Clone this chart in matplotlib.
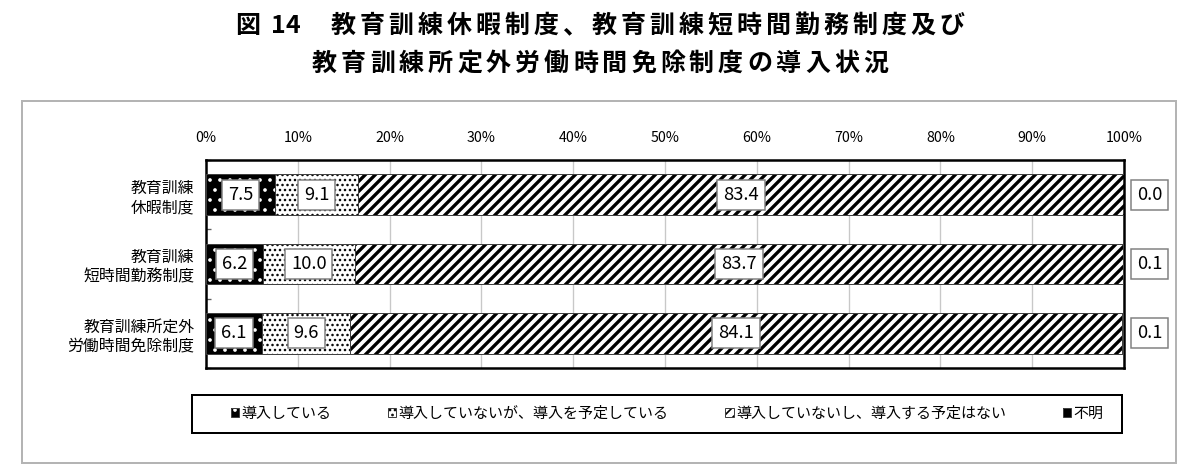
import matplotlib.pyplot as plt
import matplotlib as mpl
from matplotlib.patches import Patch, Rectangle
from matplotlib.legend_handler import HandlerTuple

plt.rcParams['font.family'] = ['Noto Sans CJK JP', 'DejaVu Sans']

# data
categories = ['教育訓練\n休暇制度', '教育訓練\n短時間勤務制度', '教育訓練所定外\n労働時間免除制度']
introduced = [7.5, 6.2, 6.1]
planned = [9.1, 10.0, 9.6]
not_planned = [83.4, 83.7, 84.1]
unknown = [0.0, 0.1, 0.1]
series_names = ['導入している', '導入していないが、導入を予定している',
                '導入していないし、導入する予定はない', '不明']
x_ticks = list(range(0, 101, 10))
title_lines = ['図 14　教育訓練休暇制度、教育訓練短時間勤務制度及び',
               '教育訓練所定外労働時間免除制度の導入状況']

# face colour, hatch, hatch colour, hatch line width
styles = [
    ('black', '..', 'white', 1.0),
    ('white', '....', 'black', 0.9),
    ('white', '////', 'black', 2.0),
    ('black', None, None, 0),
]

W, H = 1200, 475
fig = plt.figure(figsize=(W / 120, H / 120), dpi=120)

# grey outer frame
fig.patches.append(Rectangle((22 / W, 1 - 463 / H), (1176 - 22) / W, (463 - 101) / H,
                             transform=fig.transFigure, fill=False,
                             edgecolor='#b4b4b4', lw=1.2))


def spaced_line(text, y):
    adv = {' ': 9, '　': 29}
    widths = [adv.get(c, 14 if c.isascii() else 29) for c in text]
    x = 600 - sum(widths) / 2
    for c, w in zip(text, widths):
        fig.text((x + w / 2) / W, y, c, ha='center', va='center',
                 fontsize=15, fontweight='bold')
        x += w


spaced_line(title_lines[0], 1 - 26 / H)
spaced_line(title_lines[1], 1 - 64 / H)

ax = fig.add_axes([206 / W, 1 - 368 / H, 918 / W, 208 / H])

series = [introduced, planned, not_planned, unknown]
ypos = list(range(len(categories)))
bar_h = 0.59
left = [0.0] * len(categories)
for vals, (face, hatch, hcol, hlw) in zip(series, styles):
    ax.barh(ypos, vals, left=left, height=bar_h, color=face, lw=0, zorder=2)
    if hatch:
        with mpl.rc_context({'hatch.linewidth': hlw}):
            bars = ax.barh(ypos, vals, left=left, height=bar_h, fill=False,
                           hatch=hatch, edgecolor=hcol, lw=0, zorder=3)
        for b in bars:
            if hasattr(b, 'set_hatch_linewidth'):
                b.set_hatch_linewidth(hlw)
    ax.barh(ypos, vals, left=left, height=bar_h, fill=False,
            edgecolor='#404040', lw=0.6, zorder=4)
    left = [l + v for l, v in zip(left, vals)]

# value labels
box = dict(boxstyle='square,pad=0.32', fc='white', ec='#808080', lw=0.9)
left = [0.0] * len(categories)
for vals in series[:3]:
    for i, v in enumerate(vals):
        ax.text(left[i] + v / 2, i, f'{v:.1f}', ha='center', va='center',
                fontsize=11, bbox=box, zorder=6)
    left = [l + v for l, v in zip(left, vals)]
for i, v in enumerate(unknown):
    ax.text(1.028, i, f'{v:.1f}', ha='center', va='center', fontsize=11,
            bbox=box, transform=ax.get_yaxis_transform(), clip_on=False)

ax.set_xlim(0, 100)
ax.set_ylim(len(categories) - 0.5, -0.5)
ax.xaxis.tick_top()
ax.set_xticks(x_ticks)
ax.set_xticklabels([f'{t}%' for t in x_ticks])
ax.tick_params(axis='x', length=0, pad=9, labelsize=8.5)
ax.set_yticks(ypos)
ax.set_yticklabels(categories)
ax.tick_params(axis='y', which='major', length=0, pad=7, labelsize=9.5)
ax.set_yticks([-0.5, 0.5, 1.5, 2.5], minor=True)
ax.tick_params(axis='y', which='minor', direction='in', length=3, width=0.8,
               color='#606060')
ax.xaxis.grid(True, color='#c8c8c8', lw=0.8)
ax.set_axisbelow(True)
for s in ax.spines.values():
    s.set_linewidth(1.5)

# legend frame drawn separately so the entries can sit inside with margins
fig.patches.append(Rectangle((192 / W, 1 - 433 / H), 930 / W, 38 / H,
                             transform=fig.transFigure, fill=False,
                             edgecolor='black', lw=1.2))
handles = []
for face, hatch, hcol, hlw in styles:
    parts = [Patch(facecolor=face, edgecolor='none')]
    if hatch:
        parts.append(Patch(fill=False, hatch=hatch, edgecolor=hcol, lw=0))
    parts.append(Patch(fill=False, edgecolor='#404040', lw=0.6))
    handles.append(tuple(parts))
fig.legend(handles, series_names, loc='center',
           bbox_to_anchor=(228 / W, 1 - 433 / H, 878 / W, 38 / H),
           mode='expand', ncol=4, frameon=False,
           fontsize=9, handlelength=0.55, handleheight=0.55,
           handletextpad=0.15, borderaxespad=0, borderpad=0.2,
           handler_map={tuple: HandlerTuple(ndivide=1, pad=0)})

fig.savefig('out.png', dpi=120)
